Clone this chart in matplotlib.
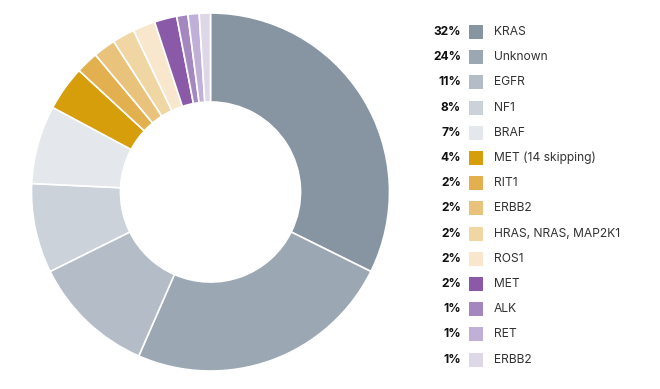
import matplotlib
matplotlib.use("Agg")
import matplotlib.pyplot as plt
from matplotlib.patches import Rectangle

labels = ["KRAS", "Unknown", "EGFR", "NF1", "BRAF", "MET (14 skipping)", "RIT1", "ERBB2",
          "HRAS, NRAS, MAP2K1", "ROS1", "MET", "ALK", "RET", "ERBB2"]
values = [32, 24, 11, 8, 7, 4, 2, 2, 2, 2, 2, 1, 1, 1]
pct_labels = [f"{v}%" for v in values]
colors = ["#8795a3", "#9ba7b3", "#b4bcc7", "#ccd2da", "#e4e7eb", "#d69e0a", "#e2b04e",
          "#e9c37c", "#efd6a2", "#f8e7cd", "#8a5aa8", "#a487bf", "#c0b0d7", "#ded7e7"]

fig = plt.figure(figsize=(6.6, 3.89), dpi=100)
cx, cy, r = 210.5, 192, 179
ax = fig.add_axes([(cx - r) / 660, 1 - (cy + r) / 389, 2 * r / 660, 2 * r / 389])
ax.pie(values, colors=colors, startangle=90, counterclock=False,
       wedgeprops=dict(width=0.497, edgecolor="white", linewidth=1.2))
ax.set_aspect("equal")
ax.set_xlim(-1, 1)
ax.set_ylim(-1, 1)

lax = fig.add_axes([0, 0, 1, 1])
lax.set_xlim(0, 660)
lax.set_ylim(389, 0)
lax.axis("off")
font = "Inter"
y0, dy = 32, 25.2
for i, (lab, p, c) in enumerate(zip(labels, pct_labels, colors)):
    y = y0 + i * dy
    lax.text(461, y, p, ha="right", va="center", fontsize=8.7, fontweight="bold",
             family=font, color="#111111")
    lax.add_patch(Rectangle((469, y - 7), 14, 14, facecolor=c, edgecolor="none"))
    lax.text(494, y, lab, ha="left", va="center", fontsize=8.7, family=font,
             color="#333333", fontweight="normal")

fig.savefig("out.png", dpi=100)
